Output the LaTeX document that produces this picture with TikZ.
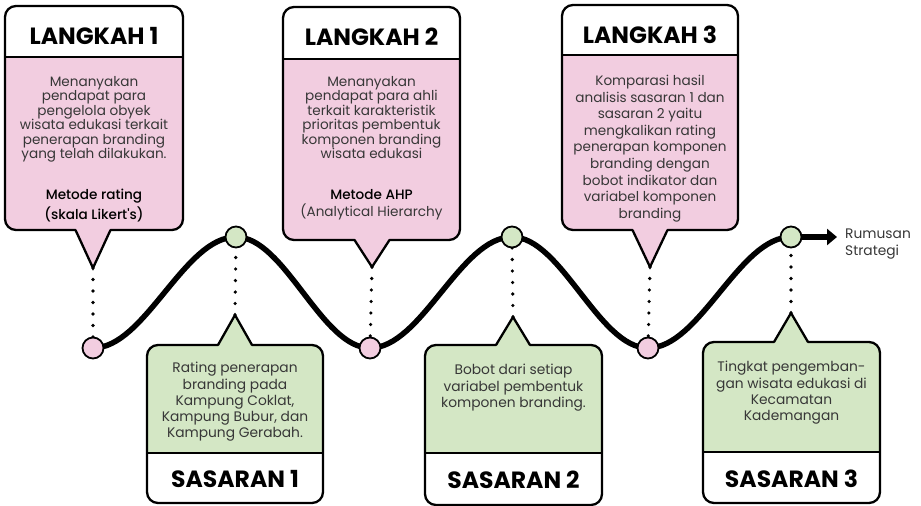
\documentclass[tikz,border=0pt]{standalone}
\usepackage{fontspec}
\setmainfont{Poppins}
\newfontfamily\mediumfont{Poppins Medium}
\usetikzlibrary{arrows.meta,calc}

\definecolor{pinkfill}{RGB}{242,205,224}
\definecolor{greenfill}{RGB}{212,231,197}
\definecolor{bodytext}{RGB}{55,55,55}

\tikzset{
  outline/.style={line width=2.3pt, draw=black},
  cardtitle/.style={font=\fontsize{23.5}{26}\selectfont\bfseries, text=black, inner sep=0pt},
  cardbody/.style={font=\fontsize{13.6}{14.5}\selectfont, text=bodytext, align=center, inner sep=0pt, anchor=north},
  widebody/.style={font=\fontsize{13.6}{16.6}\selectfont, text=bodytext, align=center, inner sep=0pt, anchor=north},
  goalbody/.style={font=\fontsize{13.8}{16.3}\selectfont, text=bodytext, align=center, inner sep=0pt, anchor=north},
  wave/.style={line width=5.5pt, draw=black},
  dotline/.style={line width=3.6pt, line cap=round, dash pattern=on 0pt off 11.5pt, draw=black},
  stepdot/.style={circle, draw=black, line width=1.8pt, minimum size=21pt, inner sep=0pt, fill=pinkfill},
  goaldot/.style={circle, draw=black, line width=1.8pt, minimum size=21pt, inner sep=0pt, fill=greenfill},
}

% card with a title strip on top and a pointer below
% #1 left, #2 right, #3 top, #4 divider, #5 bottom, #6 tip x, #7 tip y, #8 fill, #9 tip name
\newcommand\topcard[9]{%
  \fill[#8, rounded corners=11pt] (#1,#3) rectangle (#2,#5);
  \fill[white, rounded corners=11pt] (#1,#4) -- (#1,#3) -- (#2,#3) -- (#2,#4);
  \draw[line width=2pt] (#1,#4) -- (#2,#4);
  \draw[outline, rounded corners=11pt] (#1,#3) rectangle (#2,#5);
  \fill[#8] ({#6-17.5},{#5-2}) -- (#6,#7) -- ({#6+17.5},{#5-2}) -- cycle;
  \draw[outline, line join=miter] ({#6-17.5},#5) -- (#6,#7) -- ({#6+17.5},#5);
  \coordinate (#9) at (#6,#7);
}

% card with a pointer on top and a title strip below
\newcommand\bottomcard[9]{%
  \fill[#8, rounded corners=11pt] (#1,#3) rectangle (#2,#5);
  \fill[white, rounded corners=11pt] (#1,#4) -- (#1,#5) -- (#2,#5) -- (#2,#4);
  \draw[line width=2pt] (#1,#4) -- (#2,#4);
  \draw[outline, rounded corners=11pt] (#1,#3) rectangle (#2,#5);
  \fill[#8] ({#6-17},{#3+2}) -- (#6,#7) -- ({#6+17},{#3+2}) -- cycle;
  \draw[outline, line join=miter] ({#6-17},#3) -- (#6,#7) -- ({#6+17},#3);
  \coordinate (#9) at (#6,#7);
}

\begin{document}
\begin{tikzpicture}[x=1pt, y=-1pt]
\useasboundingbox (0,0) rectangle (921,506);

% milestones along the path
\coordinate (p1) at (93,348);
\coordinate (g1) at (236,237);
\coordinate (p2) at (370,348);
\coordinate (g2) at (512,237);
\coordinate (p3) at (648,348);
\coordinate (g3) at (791,237);
\coordinate (goal) at (837,237);

% wavy path
\draw[wave]
  (p1) cos ($(p1)!0.5!(g1)$) sin (g1)
       cos ($(g1)!0.5!(p2)$) sin (p2)
       cos ($(p2)!0.5!(g2)$) sin (g2)
       cos ($(g2)!0.5!(p3)$) sin (p3)
       cos ($(p3)!0.5!(g3)$) sin (g3);
\draw[wave, -{Triangle[length=10pt, width=16pt]}] (g3) -- (goal);

% step cards
\topcard{5}{183}{6}{57}{230}{93}{268}{pinkfill}{t1}
\topcard{283}{460}{7}{59}{240}{372}{267}{pinkfill}{t2}
\topcard{562}{738}{5}{55}{230}{650}{267}{pinkfill}{t3}

% goal cards
\bottomcard{147}{323}{345}{453}{503}{235}{315}{greenfill}{s1}
\bottomcard{425}{602}{345}{453}{505}{513}{317}{greenfill}{s2}
\bottomcard{703}{880}{342}{452}{503}{791}{313}{greenfill}{s3}

% dotted links
\draw[dotline] (t1) -- (p1);
\draw[dotline] (t2) -- (p2);
\draw[dotline] (t3) -- (p3);
\draw[dotline] (s1) -- (g1);
\draw[dotline] (s2) -- (g2);
\draw[dotline] (s3) -- (g3);

% milestone dots
\node[stepdot] (n1) at (p1) {};
\node[stepdot] (n2) at (p2) {};
\node[stepdot] (n3) at (p3) {};
\node[goaldot] (m1) at (g1) {};
\node[goaldot] (m2) at (g2) {};
\node[goaldot] (m3) at (g3) {};

% titles
\node[cardtitle] (h1) at (94,36) {LANGKAH 1};
\node[cardtitle] (h2) at (371.5,37) {LANGKAH 2};
\node[cardtitle] (h3) at (650,35) {LANGKAH 3};
\node[cardtitle] (k1) at (235,479) {SASARAN 1};
\node[cardtitle] (k2) at (513.5,480) {SASARAN 2};
\node[cardtitle] (k3) at (791.5,479) {SASARAN 3};

% step texts
\node[cardbody] (b1) at (94,76) {Menanyakan\\pendapat para\\pengelola obyek\\wisata edukasi terkait\\penerapan branding\\yang telah dilakukan.\\[26pt]
  {\mediumfont\color{black}Metode rating}\\[2.5pt]{\mediumfont\color{black}(skala Likert's)}};
\node[cardbody] (b2) at (371.5,76) {Menanyakan\\pendapat para ahli\\terkait karakteristik\\prioritas pembentuk\\komponen branding\\wisata edukasi\\[26pt]
  {\mediumfont\color{black}Metode AHP}\\[2.5pt](Analytical Hierarchy};
\node[widebody] (b3) at (650,75) {Komparasi hasil\\analisis sasaran 1 dan\\sasaran 2 yaitu\\mengkalikan rating\\penerapan komponen\\branding dengan\\bobot indikator dan\\variabel komponen\\branding};

% goal texts
\node[goalbody] (c1) at (235,362) {Rating penerapan\\branding pada\\Kampung Coklat,\\Kampung Bubur, dan\\Kampung Gerabah.};
\node[goalbody] (c2) at (513.5,364) {Bobot dari setiap\\variabel pembentuk\\komponen branding.};
\node[goalbody] (c3) at (791.5,361) {Tingkat pengemban-\\gan wisata edukasi di\\Kecamatan\\Kademangan};

% end label
\node[font=\fontsize{13.8}{17}\selectfont, text=bodytext, align=left, anchor=west, inner sep=0pt] (end) at (845,244) {Rumusan\\Strategi};
\end{tikzpicture}
\end{document}
